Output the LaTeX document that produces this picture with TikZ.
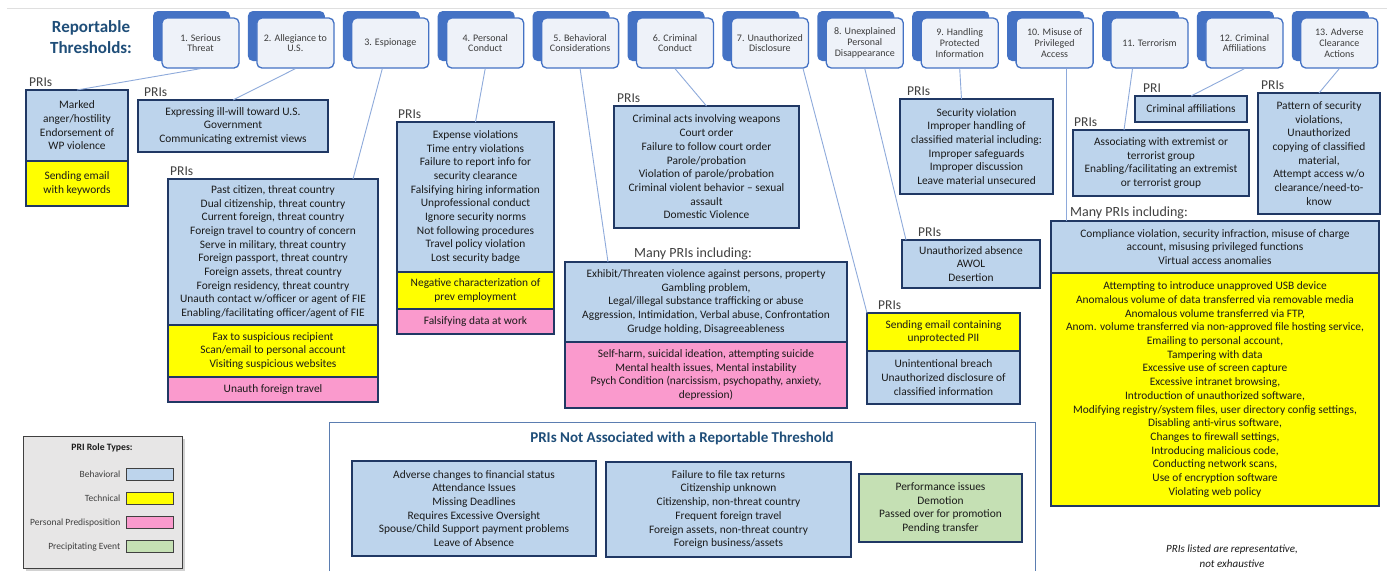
\documentclass[tikz,border=0pt]{standalone}
\usepackage{fontspec}
\setmainfont{Carlito}
\usetikzlibrary{shadows, positioning, calc}

\newcommand{\boxfont}{\fontsize{11.4}{13.7}\selectfont}
\newcommand{\thrfont}{\fontsize{10}{10.8}\selectfont}
\newcommand{\pritag}[3]{\node[prilabel, anchor=base west] (#1lab) at ($(#1.north west)+(#2,-4)$) {#3};}

\tikzset{
  thr/.style={draw=thrline, line width=1.3pt, fill=thrfill, rounded corners=5pt,
    minimum width=77pt, minimum height=50pt, align=center, inner sep=1pt,
    font=\thrfont, text=txt!85,
    general shadow={fill=thrback, shadow xshift=-9pt, shadow yshift=7pt}},
  pri/.style={draw=priline, line width=1.4pt, align=center, inner sep=0pt,
    outer sep=0pt, font=\boxfont, text=txt, anchor=north west},
  prilabel/.style={font=\fontsize{13.5}{14}\selectfont, text=labtxt, inner sep=0pt},
  many/.style={font=\fontsize{14}{15}\selectfont, text=labtxt, inner sep=0pt},
  link/.style={draw=linkc, line width=0.9pt},
  swatch/.style={draw=legline, line width=1pt, minimum width=47pt, minimum height=12pt, inner sep=0pt},
}

\begin{document}
\begin{tikzpicture}[x=1pt, y=-1pt]
% --- CORES HEX ---
\definecolor{thrback}{HTML}{4472C4}
\definecolor{thrline}{HTML}{4472C4}
\definecolor{thrfill}{HTML}{EEF2F9}
\definecolor{behav}{HTML}{BDD4EC}
\definecolor{techn}{HTML}{FFFF00}
\definecolor{pers}{HTML}{FA9ACD}
\definecolor{precip}{HTML}{C5E0B4}
\definecolor{priline}{HTML}{203864}
\definecolor{titleblue}{HTML}{1F4E79}
\definecolor{linkc}{HTML}{8EAADB}
\definecolor{txt}{HTML}{1A1A1A}
\definecolor{labtxt}{HTML}{404040}
\definecolor{legfill}{HTML}{E7E6E6}
\definecolor{legline}{HTML}{404040}
\definecolor{framec}{HTML}{5B7DB1}

\useasboundingbox (0,0) rectangle (1387,571);
\fill[white] (0,0) rectangle (1387,571);
\draw[gray!25, line width=0.8pt] (7,8) -- (1387,8);

% LAYER 1: Limiares reportaveis
\node[font=\bfseries\fontsize{17}{21}\selectfont, text=titleblue, align=center] (title) at (91,37.5) {Reportable\\Thresholds:};
\foreach \txt [count=\i] in {{1. Serious\\Threat}, {2. Allegiance to\\U.S.}, {3. Espionage},
    {4. Personal\\Conduct}, {5. Behavioral\\Considerations}, {6. Criminal\\Conduct},
    {7. Unauthorized\\Disclosure}, {8. Unexplained\\Personal\\Disappearance},
    {9. Handling\\Protected\\Information}, {10. Misuse of\\Privileged\\Access},
    {11. Terrorism}, {12. Criminal\\Affiliations}, {13. Adverse\\Clearance\\Actions}}
  \node[thr] (t\i) at ({200.5+94.9*(\i-1)}, 43) {\txt};

% LAYER 2: Caixas de PRIs
\node[pri, fill=behav, minimum width=102pt, minimum height=71pt] (p1) at (26,90) {Marked\\anger/hostility\\Endorsement of\\WP violence};
\node[pri, fill=techn, minimum width=102pt, minimum height=45pt, below=0pt of p1] (p1b) {Sending email\\with keywords};
\pritag{p1}{3}{PRIs}

\node[pri, fill=behav, minimum width=190pt, minimum height=52pt] (p2) at (138,100) {Expressing ill-will toward U.S.\\Government\\Communicating extremist views};
\pritag{p2}{6}{PRIs}

\node[pri, fill=behav, minimum width=210pt, minimum height=146pt] (p3) at (168,179) {Past citizen, threat country\\Dual citizenship, threat country\\Current foreign, threat country\\Foreign travel to country of concern\\Serve in military, threat country\\Foreign passport, threat country\\Foreign assets, threat country\\Foreign residency, threat country\\Unauth contact w/officer or agent of FIE\\Enabling/facilitating officer/agent of FIE};
\node[pri, fill=techn, minimum width=210pt, minimum height=52pt, below=0pt of p3] (p3b) {Fax to suspicious recipient\\Scan/email to personal account\\Visiting suspicious websites};
\node[pri, fill=pers, minimum width=210pt, minimum height=25pt, below=0pt of p3b] (p3c) {Unauth foreign travel};
\pritag{p3}{2}{PRIs}

\node[pri, fill=behav, minimum width=157pt, minimum height=150pt] (p4) at (397,122) {Expense violations\\Time entry violations\\Failure to report info for\\security clearance\\Falsifying hiring information\\Unprofessional conduct\\Ignore security norms\\Not following procedures\\Travel policy violation\\Lost security badge};
\node[pri, fill=techn, minimum width=157pt, minimum height=37pt, below=0pt of p4] (p4b) {Negative characterization of\\prev employment};
\node[pri, fill=pers, minimum width=157pt, minimum height=25pt, below=0pt of p4b] (p4c) {Falsifying data at work};
\pritag{p4}{1}{PRIs}

\node[pri, fill=behav, minimum width=282pt, minimum height=80pt] (p5) at (565,262) {Exhibit/Threaten violence against persons, property\\Gambling problem,\\Legal/illegal substance trafficking or abuse\\Aggression, Intimidation, Verbal abuse, Confrontation\\Grudge holding, Disagreeableness};
\node[pri, fill=pers, minimum width=282pt, minimum height=66pt, below=0pt of p5] (p5b) {Self-harm, suicidal ideation, attempting suicide\\Mental health issues, Mental instability\\Psych Condition (narcissism, psychopathy, anxiety,\\depression)};
\node[many, anchor=south] (p5lab) at ($(p5.north)+(-13,-1.5)$) {Many PRIs including:};

\node[pri, fill=behav, minimum width=185pt, minimum height=122pt] (p6) at (614,106) {Criminal acts involving weapons\\Court order\\Failure to follow court order\\Parole/probation\\Violation of parole/probation\\Criminal violent behavior – sexual\\assault\\Domestic Violence};
\pritag{p6}{3}{PRIs}

\node[pri, fill=techn, minimum width=153pt, minimum height=38pt] (p7) at (867,313) {Sending email containing\\unprotected PII};
\node[pri, fill=behav, minimum width=153pt, minimum height=53pt, below=0pt of p7] (p7b) {Unintentional breach\\Unauthorized disclosure of\\classified information};
\pritag{p7}{11}{PRIs}

\node[pri, fill=behav, minimum width=138pt, minimum height=48pt] (p8) at (902,240) {Unauthorized absence\\AWOL\\Desertion};
\pritag{p8}{16}{PRIs}

\node[pri, fill=behav, minimum width=153pt, minimum height=95pt] (p9) at (900,99) {Security violation\\Improper handling of\\classified material including:\\Improper safeguards\\Improper discussion\\Leave material unsecured};
\pritag{p9}{7}{PRIs}

\node[pri, fill=behav, minimum width=328pt, minimum height=52pt] (p10) at (1051,221) {Compliance violation, security infraction, misuse of charge\\account, misusing privileged functions\\Virtual access anomalies};
\node[pri, fill=techn, minimum width=328pt, minimum height=233pt, below=0pt of p10] (p10b) {Attempting to introduce unapproved USB device\\Anomalous volume of data transferred via removable media\\Anomalous volume transferred via FTP,\\Anom. volume transferred via non-approved file hosting service,\\Emailing to personal account,\\Tampering with data\\Excessive use of screen capture\\Excessive intranet browsing,\\Introduction of unauthorized software,\\Modifying registry/system files, user directory config settings,\\Disabling anti-virus software,\\Changes to firewall settings,\\Introducing malicious code,\\Conducting network scans,\\Use of encryption software\\Violating web policy};
\node[many, anchor=south west] (p10lab) at ($(p10.north west)+(19,-1.5)$) {Many PRIs including:};

\node[pri, fill=behav, minimum width=176pt, minimum height=66pt] (p11) at (1073,130) {Associating with extremist or\\terrorist group\\Enabling/facilitating an extremist\\or terrorist group};
\pritag{p11}{1}{PRIs}

\node[pri, fill=behav, minimum width=112pt, minimum height=26pt] (p12) at (1135,96) {Criminal affiliations};
\pritag{p12}{8}{PRI}

\node[pri, fill=behav, minimum width=122pt, minimum height=121pt] (p13) at (1258,93) {Pattern of security\\violations,\\Unauthorized\\copying of classified\\material,\\Attempt access w/o\\clearance/need-to-\\know};
\pritag{p13}{3}{PRIs}

% LAYER 3: Conexoes
\draw[link] (t1.south) -- (p1.north);
\draw[link] (t2.south) -- (p2.north);
\draw[link] ($(t3.south)+(-8,0)$) -- ($(p3.north east)+(-25,0)$);
\draw[link] (t4.south) -- (p4.north);
\draw[link] (t5.south) -- ($(p5.north west)+(43,0)$);
\draw[link] (t6.south) -- (p6.north);
\draw[link] ($(t7.south east)+(-6,0)$) -- (p7.north west);
\draw[link] (t8.south) -- ($(p8.north west)+(4,0)$);
\draw[link] (t9.south) -- ($(p9.north)+(-15,0)$);
\draw[link] ($(t10.south)+(12,0)$) coordinate (a10) -- (a10 |- p10.north);
\draw[link] ($(t11.south)+(-17,0)$) -- ($(p11.north)+(-37,0)$);
\draw[link] (t12.south) -- (p12.north);
\draw[link] (t13.south) -- (p13.north);

% LAYER 4: Legenda
\node[draw=legline, line width=1pt, fill=legfill, drop shadow={opacity=0.35}, minimum width=159pt, minimum height=132pt, anchor=north west] (leg) at (23,436) {};
\node[font=\bfseries\fontsize{9.7}{11}\selectfont, text=txt] (legtitle) at (102,448) {PRI Role Types:};
\foreach \lab/\col [count=\k] in {Behavioral/behav, Technical/techn, Personal Predisposition/pers, Precipitating Event/precip} {
  \node[swatch, fill=\col] (sw\k) at (149.5, {474+24.3*(\k-1)}) {};
  \node[font=\fontsize{9.5}{11}\selectfont, text=labtxt, anchor=east, inner sep=0pt] (swl\k) at ($(sw\k.west)+(-5,0)$) {\lab};
}

% LAYER 5: PRIs sem limiar
\draw[framec, line width=1pt] (329,571) coordinate (fbl) -- (329,422) coordinate (ftl) -- (1035,422) coordinate (ftr) -- (1035,571) coordinate (fbr);
\node[font=\bfseries\fontsize{15}{17}\selectfont, text=titleblue] (ntitle) at (682,438) {PRIs Not Associated with a Reportable Threshold};
\node[pri, fill=behav, minimum width=244pt, minimum height=95pt] (na) at (352,461) {Adverse changes to financial status\\Attendance Issues\\Missing Deadlines\\Requires Excessive Oversight\\Spouse/Child Support payment problems\\Leave of Absence};
\node[pri, fill=behav, minimum width=245pt, minimum height=95pt] (nb) at (606,462) {Failure to file tax returns\\Citizenship unknown\\Citizenship, non-threat country\\Frequent foreign travel\\Foreign assets, non-threat country\\Foreign business/assets};
\node[pri, fill=precip, minimum width=163pt, minimum height=68pt] (nc) at (859,474) {Performance issues\\Demotion\\Passed over for promotion\\Pending transfer};

\node[font=\itshape\fontsize{11}{14.5}\selectfont, text=txt, align=center] (foot) at (1232,556) {PRIs listed are representative,\\not exhaustive};
\end{tikzpicture}
\end{document}
